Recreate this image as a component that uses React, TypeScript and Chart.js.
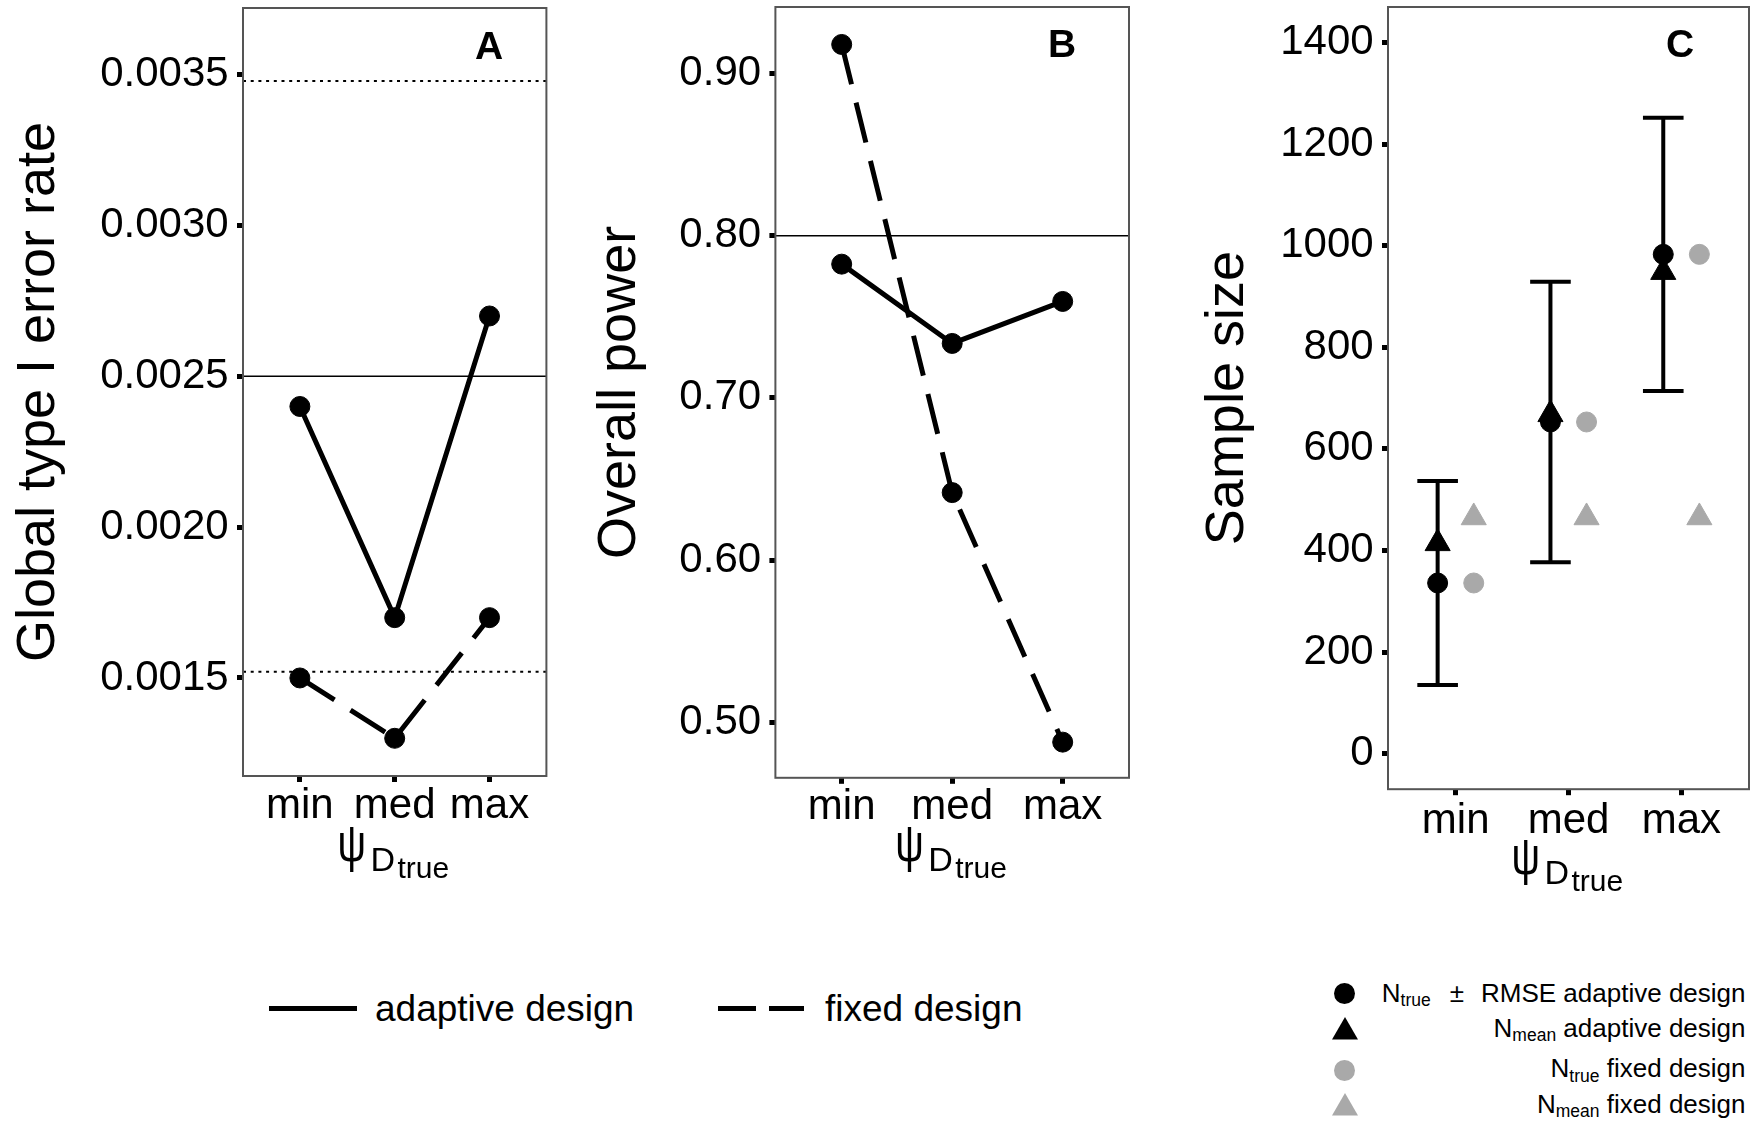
import React, { useEffect, useRef } from 'react';
import { Chart, registerables } from 'chart.js';

Chart.register(...registerables);

// ---------- data ----------
const categories = ['min', 'med', 'max'];
const categoryPositions = [1, 2, 3];
const xLimits = [0.4, 3.6];

// Panel A: global type I error rate
const typeIAdaptive = [0.0024, 0.0017, 0.0027];
const typeIFixed = [0.0015, 0.0013, 0.0017];
const typeINominal = [0.0025];
const typeIBounds = [0.001521, 0.003479];
const typeITicks = [0.0015, 0.002, 0.0025, 0.003, 0.0035];
const typeILimits = [0.001175, 0.003721];

// Panel B: overall power
const powerAdaptive = [0.7825, 0.7336, 0.7595];
const powerFixed = [0.918, 0.6416, 0.4877];
const powerTarget = [0.8];
const powerTicks = [0.5, 0.6, 0.7, 0.8, 0.9];
const powerLimits = [0.4657, 0.9411];

// Panel C: sample size
const nTrue = [336, 653, 983];
const nRmse = [201, 276, 269];
const nMeanAdaptive = [414, 668, 948];
const nMeanFixed = [465, 465, 465];
const sampleTicks = [0, 200, 400, 600, 800, 1000, 1200, 1400];
const sampleLimits = [-70, 1470];
const dodge = 0.16;
const capHalfWidth = 0.18;

// ---------- styling ----------
const FONT = "'Liberation Sans', Arial, Helvetica, sans-serif";
const GREY = '#A9A9A9';
const TICK_FONT = 42;
const TITLE_FONT = 54;

type PanelGeom = {
  left: number;
  top: number;
  width: number;
  height: number;
  padTop: number;
  padRight: number;
  yWidth: number;
  xHeight: number;
  titlePad: number;
  xTickPad: number;
};

const boxPlugin = {
  id: 'panelBox',
  afterDatasetsDraw(chart: any) {
    const { ctx, chartArea } = chart;
    ctx.save();
    ctx.strokeStyle = '#555555';
    ctx.lineWidth = 2;
    ctx.strokeRect(chartArea.left, chartArea.top, chartArea.right - chartArea.left, chartArea.bottom - chartArea.top);
    ctx.restore();
  },
};

const errorBarPlugin = {
  id: 'errorBars',
  beforeDatasetsDraw(chart: any) {
    const { ctx } = chart;
    const xs = chart.scales.x;
    const ys = chart.scales.y;
    ctx.save();
    ctx.strokeStyle = '#000';
    ctx.lineWidth = 4;
    ctx.lineCap = 'butt';
    nTrue.forEach((v, i) => {
      const cx = categoryPositions[i] - dodge;
      const px = xs.getPixelForValue(cx);
      const yTop = ys.getPixelForValue(v + nRmse[i]);
      const yBot = ys.getPixelForValue(v - nRmse[i]);
      const l = xs.getPixelForValue(cx - capHalfWidth);
      const r = xs.getPixelForValue(cx + capHalfWidth);
      ctx.beginPath();
      ctx.moveTo(px, yTop);
      ctx.lineTo(px, yBot);
      ctx.moveTo(l, yTop);
      ctx.lineTo(r, yTop);
      ctx.moveTo(l, yBot);
      ctx.lineTo(r, yBot);
      ctx.stroke();
    });
    ctx.restore();
  },
};

function zeroPad(s: any) {
  s.paddingTop = 0;
  s.paddingBottom = 0;
  s.paddingLeft = 0;
  s.paddingRight = 0;
}

function xScale(g: PanelGeom) {
  return {
    type: 'linear',
    min: xLimits[0],
    max: xLimits[1],
    afterBuildTicks: (s: any) => {
      s.ticks = categoryPositions.map((v) => ({ value: v }));
    },
    afterFit: (s: any) => {
      s.height = g.xHeight;
      zeroPad(s);
    },
    ticks: {
      callback: (v: number) => categories[categoryPositions.indexOf(v)] ?? '',
      font: { family: FONT, size: 42, lineHeight: 1 },
      color: '#000',
      padding: g.xTickPad,
      autoSkip: false,
      maxRotation: 0,
      minRotation: 0,
    },
    grid: { drawOnChartArea: false, drawTicks: true, tickLength: 6, tickWidth: 5, tickColor: '#000', color: '#000' },
    border: { display: false },
  };
}

function yScale(g: PanelGeom, limits: number[], ticks: number[], fmt: (v: number) => string, title: string) {
  return {
    type: 'linear',
    min: limits[0],
    max: limits[1],
    afterBuildTicks: (s: any) => {
      s.ticks = ticks.map((v) => ({ value: v }));
    },
    afterFit: (s: any) => {
      s.width = g.yWidth;
      zeroPad(s);
    },
    ticks: {
      callback: (v: number) => fmt(v),
      font: { family: FONT, size: TICK_FONT },
      color: '#000',
      padding: 8.3,
      autoSkip: false,
    },
    grid: { drawOnChartArea: false, drawTicks: true, tickLength: 6, tickWidth: 5, tickColor: '#000', color: '#000' },
    border: { display: false },
    title: {
      display: true,
      text: title,
      color: '#000',
      font: { family: FONT, size: TITLE_FONT, lineHeight: 1.2 },
      padding: { top: g.titlePad, bottom: 0 },
    },
  };
}

function baseOptions(g: PanelGeom, yOpts: any) {
  return {
    responsive: false,
    animation: false,
    events: [],
    devicePixelRatio: 1,
    layout: { autoPadding: false, padding: { left: 0, top: g.padTop, right: g.padRight, bottom: 0 } },
    plugins: { legend: { display: false }, tooltip: { enabled: false } },
    scales: { x: xScale(g), y: yOpts },
  };
}

function seriesPoints(values: number[], offset = 0) {
  return values.map((v, i) => ({ x: categoryPositions[i] + offset, y: v }));
}

function refLine(value: number) {
  return [
    { x: xLimits[0], y: value },
    { x: xLimits[1], y: value },
  ];
}

function lineSeries(values: number[], dashed: boolean) {
  return {
    data: seriesPoints(values),
    showLine: true,
    borderColor: '#000',
    borderWidth: 5,
    borderDash: dashed ? [41, 19] : [],
    pointRadius: 10,
    pointStyle: 'circle',
    pointBackgroundColor: '#000',
    pointBorderColor: '#000',
    pointBorderWidth: 1,
    order: 1,
  };
}

function refSeries(value: number, dotted: boolean) {
  return {
    data: refLine(value),
    showLine: true,
    borderColor: '#000',
    borderWidth: dotted ? 2 : 1.5,
    borderDash: dotted ? [3, 4.7] : [],
    pointRadius: 0,
    order: 5,
  };
}

function markerSeries(values: number[], offset: number, style: string, color: string, radius: number, order: number) {
  return {
    data: seriesPoints(values, offset),
    showLine: false,
    pointStyle: style,
    pointRadius: radius,
    pointBackgroundColor: color,
    pointBorderColor: color,
    pointBorderWidth: 1,
    order,
  };
}

const geomA: PanelGeom = { left: 0, top: 0, width: 560, height: 850, padTop: 8, padRight: 13.6, yWidth: 243, xHeight: 74, titlePad: 6.5, xTickPad: 3 };
const geomB: PanelGeom = { left: 560, top: 0, width: 600, height: 850, padTop: 7, padRight: 31, yWidth: 215.4, xHeight: 72.2, titlePad: 27.5, xTickPad: 3 };
const geomC: PanelGeom = { left: 1160, top: 0, width: 599, height: 860, padTop: 7, padRight: 10, yWidth: 228, xHeight: 70.8, titlePad: 36.1, xTickPad: 5 };

function buildA() {
  return {
    type: 'scatter',
    data: {
      datasets: [
        refSeries(typeINominal[0], false),
        refSeries(typeIBounds[0], true),
        refSeries(typeIBounds[1], true),
        lineSeries(typeIAdaptive, false),
        lineSeries(typeIFixed, true),
      ],
    },
    options: baseOptions(geomA, yScale(geomA, typeILimits, typeITicks, (v) => v.toFixed(4), 'Global type I error rate')),
    plugins: [boxPlugin],
  };
}

function buildB() {
  return {
    type: 'scatter',
    data: {
      datasets: [refSeries(powerTarget[0], false), lineSeries(powerAdaptive, false), lineSeries(powerFixed, true)],
    },
    options: baseOptions(geomB, yScale(geomB, powerLimits, powerTicks, (v) => v.toFixed(2), 'Overall power')),
    plugins: [boxPlugin],
  };
}

function buildC() {
  return {
    type: 'scatter',
    data: {
      datasets: [
        markerSeries(nTrue, -dodge, 'circle', '#000', 10, 2),
        markerSeries(nMeanAdaptive, -dodge, 'triangle', '#000', 14.5, 1),
        markerSeries(nTrue, dodge, 'circle', GREY, 10, 2),
        markerSeries(nMeanFixed, dodge, 'triangle', GREY, 14.5, 1),
      ],
    },
    options: baseOptions(geomC, yScale(geomC, sampleLimits, sampleTicks, (v) => String(v), 'Sample size')),
    plugins: [boxPlugin, errorBarPlugin],
  };
}

function ChartCanvas({ g, build }: { g: PanelGeom; build: () => any }) {
  const ref = useRef<HTMLCanvasElement>(null);
  useEffect(() => {
    const chart = new Chart(ref.current as HTMLCanvasElement, build());
    return () => chart.destroy();
  }, []);
  return (
    <canvas
      ref={ref}
      width={g.width}
      height={g.height}
      style={{ position: 'absolute', left: g.left, top: g.top, width: g.width, height: g.height }}
    />
  );
}

// text placed by its baseline
function Txt({ x, base, size, children, bold, align, w, sy }: any) {
  const style: any = {
    position: 'absolute',
    top: base - 0.8465 * size,
    fontSize: size,
    lineHeight: `${size}px`,
    fontFamily: FONT,
    fontWeight: bold ? 'bold' : 'normal',
    whiteSpace: 'nowrap',
    color: '#000',
  };
  if (sy) {
    style.transform = `scaleY(${sy})`;
    style.transformOrigin = `center ${0.8465 * size}px`;
  }
  if (align === 'center') {
    style.left = x - (w ?? 100) / 2;
    style.width = w ?? 100;
    style.textAlign = 'center';
  } else if (align === 'right') {
    style.right = 1759 - x;
    style.textAlign = 'right';
  } else {
    style.left = x;
  }
  return <div style={style}>{children}</div>;
}

function XTitle({ cx, dy }: { cx: number; dy: number }) {
  return (
    <>
      <Txt x={cx - 57} base={861.3 + dy} size={40} sy={1.3}>ψ</Txt>
      <Txt x={cx - 24} base={871 + dy} size={34}>D</Txt>
      <Txt x={cx + 3} base={878 + dy} size={30}>true</Txt>
    </>
  );
}

function Sym({ cx, cy, shape, color }: { cx: number; cy: number; shape: string; color: string }) {
  if (shape === 'circle') {
    return (
      <div
        style={{ position: 'absolute', left: cx - 10.5, top: cy - 10.5, width: 21, height: 21, borderRadius: '50%', background: color }}
      />
    );
  }
  const r = 15;
  return (
    <svg style={{ position: 'absolute', left: cx - 15, top: cy - 15, overflow: 'visible' }} width={30} height={25}>
      <polygon points={`15,0 ${15 + 0.866 * r},${r * 1.5} ${15 - 0.866 * r},${r * 1.5}`} fill={color} />
    </svg>
  );
}

function LegendRowC({ base, sub, rest, pm }: { base: number; sub: string; rest: string; pm?: boolean }) {
  return (
    <div
      style={{
        position: 'absolute',
        right: 1759 - 1745.5,
        top: base - 0.8465 * 26,
        fontFamily: FONT,
        fontSize: 26,
        lineHeight: '26px',
        whiteSpace: 'nowrap',
        color: '#000',
        textAlign: 'right',
      }}
    >
      N
      <span style={{ fontSize: 17.5, lineHeight: '1', position: 'relative', top: 4.5 }}>{sub}</span>
      {pm ? <span style={{ margin: '0 17px 0 19px' }}>±</span> : ' '}
      {rest}
    </div>
  );
}

export default function App() {
  return (
    <div style={{ position: 'absolute', left: 0, top: 0, width: 1759, height: 1121, background: '#fff', overflow: 'hidden' }}>
      <ChartCanvas g={geomA} build={buildA} />
      <ChartCanvas g={geomB} build={buildB} />
      <ChartCanvas g={geomC} build={buildC} />

      {/* panel letters */}
      <Txt x={489} base={59} size={39} bold align="center">A</Txt>
      <Txt x={1062} base={57.5} size={39} bold align="center">B</Txt>
      <Txt x={1680} base={57.5} size={39} bold align="center">C</Txt>

      {/* x-axis titles */}
      <XTitle cx={394.5} dy={0} />
      <XTitle cx={952.2} dy={0} />
      <XTitle cx={1568.5} dy={13} />

      {/* legend for panels A and B */}
      <div style={{ position: 'absolute', left: 269, top: 1005.7, width: 88, height: 5.3, background: '#000' }} />
      <Txt x={375} base={1021} size={37}>adaptive design</Txt>
      <div style={{ position: 'absolute', left: 718.3, top: 1005.7, width: 37.4, height: 5.3, background: '#000' }} />
      <div style={{ position: 'absolute', left: 769, top: 1005.7, width: 35.3, height: 5.3, background: '#000' }} />
      <Txt x={825} base={1021} size={37}>fixed design</Txt>

      {/* legend for panel C */}
      <Sym cx={1344.5} cy={993} shape="circle" color="#000" />
      <Sym cx={1344.5} cy={1031.7} shape="triangle" color="#000" />
      <Sym cx={1344.5} cy={1070} shape="circle" color={GREY} />
      <Sym cx={1344.5} cy={1107.7} shape="triangle" color={GREY} />
      <LegendRowC base={1001.7} sub="true" rest="RMSE adaptive design" pm />
      <LegendRowC base={1036.7} sub="mean" rest="adaptive design" />
      <LegendRowC base={1077.3} sub="true" rest="fixed design" />
      <LegendRowC base={1112.7} sub="mean" rest="fixed design" />
    </div>
  );
}
